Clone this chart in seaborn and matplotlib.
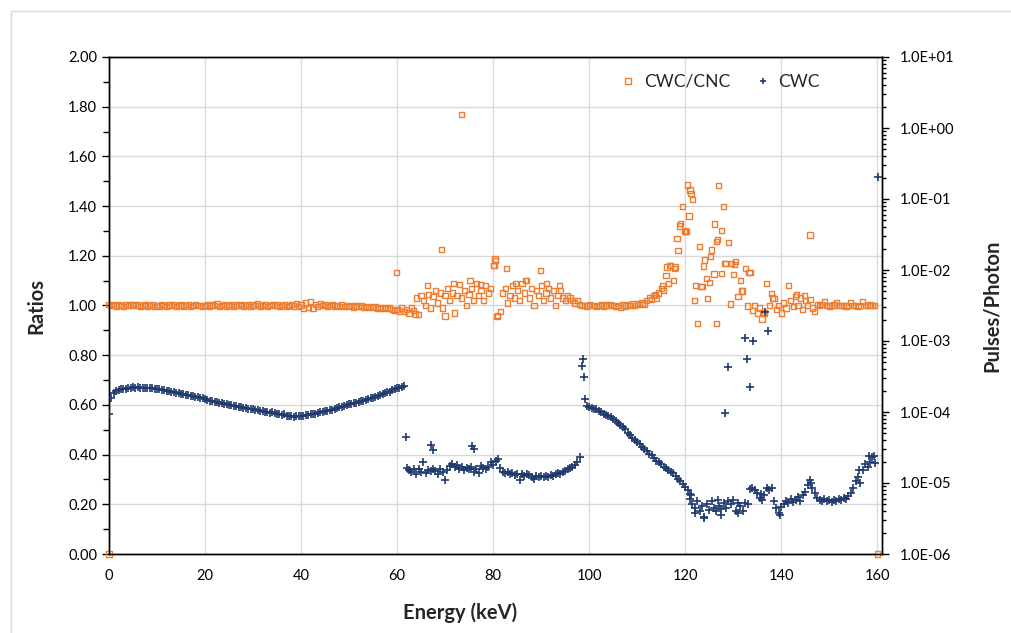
import numpy as np
import pandas as pd
import matplotlib
matplotlib.use("Agg")
import matplotlib.pyplot as plt
import seaborn as sns
from matplotlib.lines import Line2D
from matplotlib.patches import Rectangle
from matplotlib.ticker import MultipleLocator, FuncFormatter, LogLocator, NullFormatter

# energy channels are 0.5 keV wide; each row below holds 10 channels (5 keV)
ratio_rows = [
    [1.003, 1.000, 1.004, 0.998, 1.002, 1.001, 0.997, 1.003, 0.999, 1.002],
    [1.005, 0.999, 1.002, 0.996, 1.001, 1.004, 0.998, 1.000, 1.003, 0.997],
    [1.001, 0.998, 1.004, 1.000, 0.997, 1.002, 0.999, 1.003, 0.996, 1.000],
    [1.002, 0.998, 1.001, 1.005, 0.997, 1.000, 1.003, 0.999, 1.001, 0.996],
    [1.000, 1.003, 0.998, 1.002, 0.999, 1.006, 0.997, 1.001, 1.004, 0.998],
    [1.000, 1.003, 0.996, 1.002, 1.000, 1.005, 0.998, 1.001, 1.004, 0.997],
    [1.002, 0.999, 1.006, 0.998, 1.001, 1.003, 0.997, 1.000, 1.004, 0.999],
    [1.002, 0.997, 1.001, 1.005, 0.996, 1.000, 1.003, 0.998, 1.008, 0.995],
    [1.002, 0.988, 1.010, 0.993, 1.015, 0.990, 1.004, 0.997, 1.006, 0.999],
    [1.003, 0.996, 1.001, 1.004, 0.998, 1.000, 0.995, 1.002, 0.997, 0.999],
    [0.996, 1.000, 0.994, 0.998, 0.995, 0.999, 0.993, 0.997, 0.992, 0.996],
    [0.991, 0.994, 0.989, 0.992, 0.988, 0.991, 0.987, 0.990, 0.985, 0.980],
    [0.985, 0.978, 0.990, 0.975, 0.985, 0.970, 0.990, 0.980, 1.030, 0.965],
    [1.040, 1.020, 1.000, 1.045, 0.990, 1.035, 1.060, 1.010, 1.050, 0.990],
    [1.040, 1.070, 1.020, 1.050, 0.970, 1.040, 1.085, 1.030, 1.060, 1.000],
    [1.045, 1.070, 1.020, 1.090, 1.040, 1.060, 1.020, 1.080, 1.050, 1.070],
    [1.160, 1.180, 0.960, 0.975, 1.050, 1.070, 1.010, 1.040, 1.080, 1.030],
    [1.060, 1.020, 1.090, 1.050, 1.100, 1.030, 1.070, 1.000, 1.060, 1.040],
    [1.080, 1.020, 1.050, 1.070, 1.030, 1.060, 1.000, 1.040, 1.060, 1.030],
    [1.020, 1.040, 1.030, 1.020, 1.010, 1.020, 1.005, 1.000, 1.000, 0.998],
    [1.003, 0.999, 1.001, 0.997, 1.000, 1.004, 0.998, 1.002, 0.999, 1.003],
    [1.000, 0.996, 1.000, 0.993, 1.002, 0.998, 1.004, 1.000, 1.006, 1.001],
    [1.008, 1.004, 1.010, 1.006, 1.020, 1.030, 1.025, 1.040, 1.030, 1.050],
    [1.070, 1.060, 1.120, 1.090, 1.160, 1.100, 1.155, 1.220, 1.330, 1.400],
    [1.300, 1.485, 1.465, 1.425, 1.020, 0.928, 1.237, 1.078, 1.183, 1.109],
    [1.092, 1.223, 1.127, 1.257, 1.482, 1.130, 1.400, 1.170, 1.254, 1.006],
    [1.125, 1.176, 1.035, 1.100, 1.058, 1.150, 0.998, 1.133, 0.980, 1.000],
    [0.970, 0.990, 0.946, 0.970, 1.089, 1.000, 1.049, 1.029, 0.985, 1.000],
    [0.970, 1.010, 0.990, 1.082, 1.020, 0.995, 1.035, 1.000, 1.030, 0.985],
    [1.020, 1.000, 1.025, 0.990, 0.975, 1.005, 1.000, 1.003, 1.015, 1.000],
    [0.998, 1.000, 1.002, 1.013, 0.999, 1.000, 1.001, 0.998, 1.000, 1.013],
    [1.000, 1.001, 0.997, 1.000, 1.015, 1.000, 0.999, 1.002, 1.000, 1.000],
]

# CWC pulses/photon, in units of 1e-5
cwc_rows = [
    [9.4, 15.7, 18.5, 19.8, 20.4, 20.9, 21.0, 21.3, 21.5, 21.9],
    [22.3, 21.9, 22.4, 22.0, 21.7, 22.1, 21.8, 21.5, 21.6, 21.1],
    [20.8, 20.9, 20.4, 20.3, 19.6, 19.8, 19.2, 19.0, 18.3, 18.5],
    [17.9, 17.8, 17.2, 17.3, 16.7, 16.6, 16.1, 16.2, 15.6, 15.5],
    [15.0, 14.9, 14.5, 14.5, 13.9, 13.8, 13.4, 13.5, 13.0, 12.9],
    [12.5, 12.6, 12.2, 12.0, 11.8, 11.8, 11.4, 11.3, 11.1, 10.9],
    [10.9, 10.6, 10.5, 10.4, 10.3, 10.0, 10.1, 9.8, 9.84, 9.6],
    [9.5, 9.4, 9.2, 9.3, 8.9, 8.8, 8.7, 8.6, 8.7, 8.8],
    [8.9, 8.9, 9.1, 9.0, 9.3, 9.4, 9.5, 9.7, 9.9, 10.0],
    [10.2, 10.4, 10.6, 10.8, 11.0, 11.3, 11.6, 11.8, 12.1, 12.4],
    [12.9, 13.0, 13.4, 13.6, 13.9, 14.1, 14.5, 14.9, 15.4, 15.6],
    [16.0, 16.3, 16.9, 17.4, 17.8, 18.3, 19.0, 19.4, 20.1, 21.2],
    [22.0, 21.8, 22.8, 23.6, 1.62, 1.50, 1.45, 1.58, 1.35, 1.55],
    [1.42, 1.95, 1.40, 1.52, 1.48, 1.60, 1.48, 1.35, 1.55, 1.42],
    [1.10, 1.50, 1.75, 1.85, 1.70, 1.78, 1.60, 1.68, 1.50, 1.62],
    [1.55, 1.66, 1.45, 1.58, 1.38, 1.72, 1.65, 1.55, 1.70, 1.95],
    [1.80, 2.05, 2.15, 1.65, 1.45, 1.38, 1.42, 1.33, 1.40, 1.30],
    [1.36, 1.12, 1.32, 1.26, 1.34, 1.28, 1.22, 1.14, 1.27, 1.22],
    [1.25, 1.20, 1.26, 1.22, 1.30, 1.25, 1.33, 1.38, 1.35, 1.45],
    [1.48, 1.55, 1.62, 1.70, 1.78, 2.00, 2.35, 45.0, 31.0, 12.3],
    [11.8, 11.4, 11.2, 10.9, 10.3, 10.0, 9.5, 9.2, 8.8, 8.4],
    [7.9, 7.4, 7.0, 6.6, 6.1, 5.7, 5.1, 4.7, 4.3, 4.0],
    [3.8, 3.5, 3.2, 3.0, 2.8, 2.6, 2.45, 2.25, 2.07, 1.98],
    [1.85, 1.70, 1.63, 1.52, 1.45, 1.38, 1.25, 1.14, 1.07, 0.97],
    [0.88, 0.80, 0.70, 0.50, 0.44, 0.55, 0.40, 0.47, 0.33, 0.50],
    [0.42, 0.56, 0.45, 0.40, 0.48, 0.43, 0.52, 0.45, 0.55, 0.50],
    [0.57, 0.40, 0.52, 0.48, 0.40, 0.53, 0.50, 0.82, 0.86, 0.80],
    [0.72, 0.62, 0.58, 0.68, 0.84, 0.80, 0.86, 0.55, 0.45, 0.38],
    [0.46, 0.50, 0.55, 0.52, 0.60, 0.54, 0.58, 0.64, 0.56, 0.68],
    [0.74, 0.95, 1.10, 0.85, 0.72, 0.62, 0.58, 0.55, 0.60, 0.56],
    [0.58, 0.54, 0.57, 0.55, 0.60, 0.57, 0.62, 0.59, 0.66, 0.72],
    [0.85, 1.05, 1.20, 1.00, 1.50, 1.85, 1.70, 2.00, 2.35, 1.90],
]

# scattered points off the 0.5 keV grid
ratio_extra_kev = [0.0, 160.0, 59.9, 69.3, 73.5, 80.2, 80.4, 82.8, 89.8, 70.0,
                   63.8, 80.8, 66.3, 71.8, 75.2, 77.3, 84.6, 86.7, 91.2, 93.8,
                   113.8, 115.2, 116.2, 116.8, 117.8, 118.3, 118.8, 119.8, 120.3, 120.8,
                   121.2, 122.2, 123.3, 123.9, 124.7, 125.3, 126.1, 126.5, 126.8, 127.6,
                   128.3, 129.7, 130.2, 131.7, 133.3, 136.3, 138.2, 146.0, 143.2, 144.8]
ratio_extra = [0.0, 0.0, 1.132, 1.226, 1.77, 1.16, 1.187, 1.15, 1.14, 0.958,
               0.966, 0.955, 1.08, 1.09, 1.10, 1.085, 1.09, 1.10, 1.09, 1.08,
               1.045, 1.08, 1.155, 1.16, 1.15, 1.27, 1.32, 1.297, 1.297, 1.36,
               1.45, 1.082, 1.078, 1.159, 1.029, 1.196, 1.328, 0.928, 1.264, 1.301,
               1.17, 1.17, 1.165, 1.058, 1.133, 0.97, 1.03, 1.284, 1.045, 1.04]

cwc_extra_kev = [61.8, 67.0, 67.4, 75.6, 76.0, 98.7, 99.2, 128.3, 129.0, 132.5,
                 132.8, 133.5, 134.1, 136.7, 137.2, 160.1, 121.0, 121.3, 122.0, 123.9,
                 126.8, 127.5, 131.0, 139.8, 135.8, 146.3, 156.3, 158.3, 159.3]
cwc_extra = [4.45, 3.4, 2.9, 3.3, 3.0, 55.0, 15.2, 9.7, 43.0, 110.0,
             55.0, 22.7, 101.0, 260.0, 139.0, 20200.0, 0.60, 0.68, 0.38, 0.32,
             0.58, 0.35, 0.38, 0.35, 0.70, 1.0, 1.5, 2.4, 2.4]

ORANGE = "#ED7D31"
NAVY = "#1F3A6E"
GRID = "#D9D9D9"

ratio = np.concatenate(ratio_rows)
cwc = np.concatenate(cwc_rows)
energy = np.arange(len(ratio)) * 0.5

df_ratio = pd.DataFrame({
    "energy": np.concatenate([energy, ratio_extra_kev]),
    "ratio": np.concatenate([ratio, ratio_extra]),
})
df_cwc = pd.DataFrame({
    "energy": np.concatenate([energy, cwc_extra_kev]),
    "pulses": np.concatenate([cwc, cwc_extra]) * 1e-5,
})

sns.set_theme(style="white")
plt.rcParams["font.family"] = ["Lato", "DejaVu Sans"]

fig = plt.figure(figsize=(10.12, 6.33), dpi=100)
fig.patches.append(Rectangle((11 / 1012, -0.05), 1.1, 1.05 - 11 / 633, transform=fig.transFigure,
                             fill=False, edgecolor=GRID, linewidth=1.0))
ax = fig.add_axes([109 / 1012, 1 - 554 / 633, (882 - 109) / 1012, (554 - 57) / 633])
ax2 = ax.twinx()

sns.scatterplot(data=df_ratio, x="energy", y="ratio", ax=ax, marker="s", s=14,
                facecolors="none", edgecolor=ORANGE, linewidth=1.0, clip_on=False, zorder=3)
sns.scatterplot(data=df_cwc, x="energy", y="pulses", ax=ax2, marker="+", s=28,
                color=NAVY, linewidth=1.2, zorder=3)

ax.set_xlim(0, 161)
ax.set_ylim(0, 2)
ax.xaxis.set_major_locator(MultipleLocator(20))
ax.xaxis.set_minor_locator(MultipleLocator(10))
ax.yaxis.set_major_locator(MultipleLocator(0.2))
ax.yaxis.set_minor_locator(MultipleLocator(0.1))
ax.yaxis.set_major_formatter(FuncFormatter(lambda v, p: f"{v:.2f}"))
ax.grid(True, which="major", color=GRID, linewidth=1.0)
ax.set_axisbelow(True)

ax2.set_yscale("log")
ax2.set_ylim(1e-6, 1e1)
ax2.yaxis.set_major_locator(LogLocator(base=10, numticks=10))
ax2.yaxis.set_minor_locator(LogLocator(base=10, subs=np.arange(2, 10), numticks=10))
ax2.yaxis.set_minor_formatter(NullFormatter())
ax2.yaxis.set_major_formatter(FuncFormatter(lambda v, p: f"{v:.1E}"))
ax2.grid(False)

for a in (ax, ax2):
    for sp in a.spines.values():
        sp.set_color("black")
        sp.set_linewidth(1.0)
ax.tick_params(axis="both", which="both", direction="out", color="black", width=1.0,
               labelsize=10.5, labelcolor="black")
ax.tick_params(which="major", length=5)
ax.tick_params(which="minor", length=4)
ax.tick_params(axis="x", which="major", length=5, pad=6)
ax2.tick_params(axis="y", which="both", direction="out", color="black", width=1.0,
                labelsize=10.5, labelcolor="black")
ax2.tick_params(which="major", length=5, pad=8)
ax2.tick_params(which="minor", length=3)

ax.set_xlabel("Energy (keV)", fontsize=14.5, fontweight="bold")
ax.xaxis.set_label_coords(0.454, -0.097)
ax.set_ylabel("Ratios", fontsize=14.5, fontweight="bold", labelpad=16)
ax2.set_ylabel("Pulses/Photon", fontsize=14.5, fontweight="bold", labelpad=20)

handles = [
    Line2D([], [], ls="", marker="s", ms=4, mfc="none", mec=ORANGE, mew=1.0),
    Line2D([], [], ls="", marker="+", ms=5, color=NAVY, mew=1.2),
]
ax2.legend(handles, ["CWC/CNC", "CWC"], loc="upper left", bbox_to_anchor=(0.64, 0.998),
           ncol=2, frameon=False, fontsize=12.5, handletextpad=0.4, columnspacing=1.4,
           handlelength=1.0)

fig.savefig("out.png", dpi=100)
